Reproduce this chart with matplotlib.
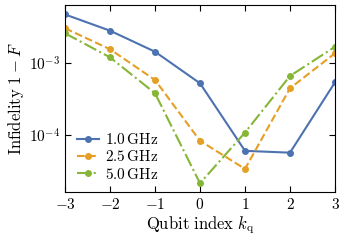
import numpy as np
import matplotlib
matplotlib.use("Agg")
from matplotlib import pyplot as plt

plt.rcParams['mathtext.fontset'] = 'cm'
plt.rcParams['font.family'] = 'serif'
plt.rcParams['font.serif'] = ['DejaVu Serif']

# data
k_q = [-3, -2, -1, 0, 1, 2, 3]
inf_10 = [4.8e-3, 2.85e-3, 1.45e-3, 5.26e-4, 6.0e-5, 5.66e-5, 5.43e-4]
inf_25 = [3.08e-3, 1.57e-3, 5.85e-4, 8.3e-5, 3.36e-5, 4.48e-4, 1.38e-3]
inf_50 = [2.62e-3, 1.21e-3, 3.82e-4, 2.12e-5, 1.08e-4, 6.65e-4, 1.7e-3]
labels = [r'$1.0\,\mathrm{GHz}$', r'$2.5\,\mathrm{GHz}$', r'$5.0\,\mathrm{GHz}$']
xticks = [-3, -2, -1, 0, 1, 2, 3]

fig = plt.figure(figsize=(3.45, 2.41), dpi=100)
ax = fig.add_axes([65 / 345, 1 - 192 / 241, 270 / 345, 187 / 241])

ax.plot(k_q, inf_10, '-', color='#4C72B0', marker='o', ms=4, lw=1.5, label=labels[0])
ax.plot(k_q, inf_25, '--', color='#E69F25', marker='o', ms=4, lw=1.5, label=labels[1])
ax.plot(k_q, inf_50, '-.', color='#86B637', marker='o', ms=4, lw=1.5, label=labels[2])

ax.set_yscale('log')
ax.set_xlim(-3, 3)
ax.set_ylim(1.6e-5, 6.5e-3)
ax.set_xticks(xticks)
ax.set_xticklabels([r'$%d$' % t for t in xticks])
ax.set_yticks([1e-4, 1e-3])
ax.set_yticklabels([r'$10^{-4}$', r'$10^{-3}$'])
ax.minorticks_off()
ax.tick_params(direction='in', top=True, right=True, labelsize=11, length=4)

ax.set_xlabel(r'$\mathrm{Qubit\ index}\ k_\mathrm{q}$', fontsize=12, labelpad=2)
ax.set_ylabel(r'$\mathrm{Infidelity}\ 1-F$', fontsize=12, labelpad=2)

ax.legend(loc='lower left', frameon=False, fontsize=11, handlelength=1.4,
          handletextpad=0.45, borderaxespad=0.4, labelspacing=0.15,
          bbox_to_anchor=(0.0, -0.01))

fig.savefig('out.png', dpi=100)
